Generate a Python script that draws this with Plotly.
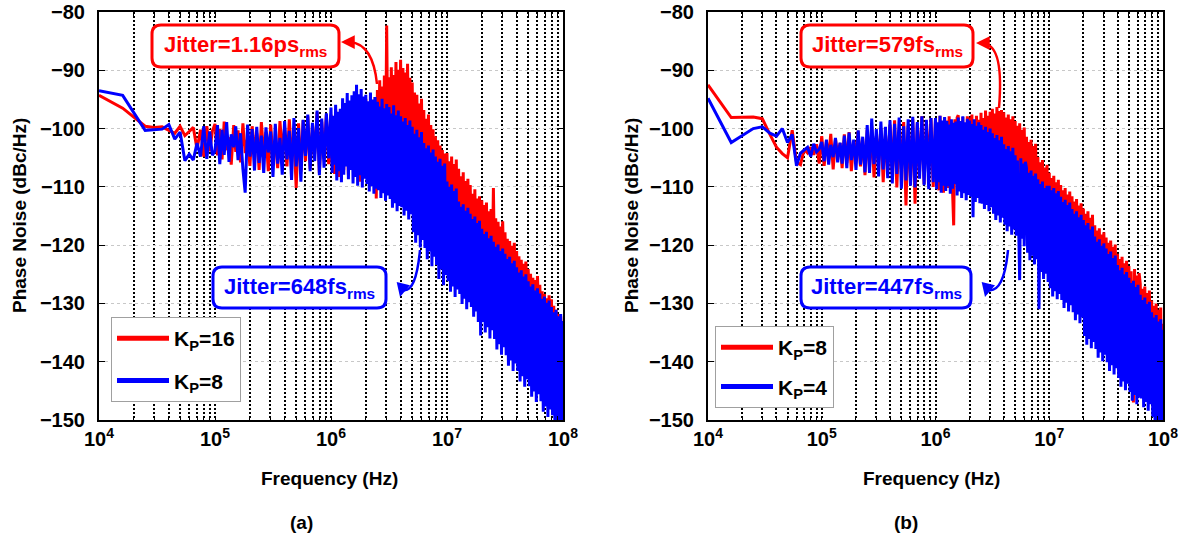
import plotly.graph_objects as go

# ---------------------------------------------------------------------------
# Measured phase-noise spectra (frequency offsets in kHz, noise in dBc/Hz)
# ---------------------------------------------------------------------------
FREQ_KHZ_10K = [10, 16, 25, 30, 35, 40, 45, 50, 55, 60, 65, 70, 75, 80, 85, 90, 95]
FREQ_KHZ_100K = [100, 105, 110, 115, 120, 126, 132, 138, 145, 151,
                 158, 166, 174, 182, 191, 200, 209, 219, 229, 240,
                 251, 263, 275, 288, 302, 316, 331, 347, 363, 380,
                 398, 417, 437, 457, 479, 501, 525, 550, 575, 603,
                 631, 661, 692, 724, 759, 794, 832, 871, 912, 955]
FREQ_KHZ_1M = [1000, 1023, 1047, 1072, 1096, 1122, 1148, 1175, 1202, 1230,
               1259, 1288, 1318, 1349, 1380, 1413, 1445, 1479, 1514, 1549,
               1585, 1622, 1660, 1698, 1738, 1778, 1820, 1862, 1905, 1950,
               1995, 2042, 2089, 2138, 2188, 2239, 2291, 2344, 2399, 2455,
               2512, 2570, 2630, 2692, 2754, 2818, 2884, 2951, 3020, 3090,
               3162, 3236, 3311, 3388, 3467, 3548, 3631, 3715, 3802, 3890,
               3981, 4074, 4169, 4266, 4365, 4467, 4571, 4677, 4786, 4898,
               5012, 5129, 5248, 5370, 5495, 5623, 5754, 5888, 6026, 6166,
               6310, 6457, 6607, 6761, 6918, 7079, 7244, 7413, 7586, 7762,
               7943, 8128, 8318, 8511, 8710, 8913, 9120, 9333, 9550, 9772]
FREQ_KHZ_10M = [10000, 10230, 10470, 10720, 10960, 11220, 11480, 11750, 12020, 12300,
                12590, 12880, 13180, 13490, 13800, 14130, 14450, 14790, 15140, 15490,
                15850, 16220, 16600, 16980, 17380, 17780, 18200, 18620, 19050, 19500,
                19950, 20420, 20890, 21380, 21880, 22390, 22910, 23440, 23990, 24550,
                25120, 25700, 26300, 26920, 27540, 28180, 28840, 29510, 30200, 30900,
                31620, 32360, 33110, 33880, 34670, 35480, 36310, 37150, 38020, 38900,
                39810, 40740, 41690, 42660, 43650, 44670, 45710, 46770, 47860, 48980,
                50120, 51290, 52480, 53700, 54950, 56230, 57540, 58880, 60260, 61660,
                63100, 64570, 66070, 67610, 69180, 70790, 72440, 74130, 75860, 77620,
                79430, 81280, 83180, 85110, 87100, 89130, 91200, 93330, 95500, 97720]
FREQ_KHZ_END = [100000]

# (a) K_P = 16
PN_A_KP16 = [
    -94.3, -96.5, -99.6, -99.8, -99.7, -100.3, -100.8, -99.6, -101.2, -100.5,
    -99.8, -103.5, -100.2, -104.8, -99.6, -103.9, -100.4,
    # 100 kHz decade
    -99.2, -104.6, -100.1, -105.3, -98.8, -103.7, -101.5, -106.2, -99.4, -104.0,
    -100.3, -105.8, -99.1, -104.2, -101.7, -106.4, -99.6, -103.5, -100.8, -107.1,
    -98.9, -104.5, -100.6, -107.3, -99.3, -105.1, -101.9, -106.8, -98.7, -104.0,
    -99.8, -106.5, -98.4, -104.9, -100.7, -110.2, -99.1, -107.4, -98.6, -105.6,
    -97.9, -106.9, -99.5, -104.3, -97.2, -107.6, -98.8, -105.2, -97.6, -106.1,
    # 1 MHz decade
    -97.6, -106.2, -98.9, -107.8, -96.7, -104.9, -99.5, -108.3, -97.2, -105.7,
    -98.4, -107.1, -96.5, -105.3, -99.8, -108.0, -97.0, -106.4, -98.1, -104.6,
    -95.8, -107.4, -97.3, -105.9, -96.2, -109.1, -98.5, -106.7, -95.4, -108.2,
    -94.9, -106.8, -96.6, -108.9, -95.3, -107.2, -97.1, -109.6, -94.6, -112.0,
    -93.4, -104.1, -91.7, -105.6, -92.8, -103.8, -90.9, -106.0, -82.3, -104.5,
    -91.2, -103.6, -89.5, -105.2, -90.8, -104.0, -88.6, -106.1, -89.9, -103.2,
    -88.2, -104.7, -89.6, -106.3, -90.4, -105.0, -88.9, -107.1, -91.3, -105.8,
    -92.1, -107.5, -93.8, -108.6, -94.2, -107.9, -95.7, -110.2, -94.9, -109.4,
    -96.8, -111.2, -98.3, -112.7, -97.6, -111.9, -99.4, -113.8, -100.1, -112.6,
    -101.3, -114.5, -102.0, -116.1, -102.9, -115.4, -103.7, -117.2, -104.3, -118.0,
    # 10 MHz decade
    -104.2, -116.5, -105.6, -117.9, -104.8, -116.9, -106.1, -118.4, -105.3, -117.2,
    -106.9, -118.6, -108.2, -119.7, -107.5, -120.3, -109.0, -118.9, -108.6, -120.8,
    -109.7, -120.6, -111.2, -121.8, -110.4, -122.4, -112.0, -121.3, -111.6, -123.0,
    -112.3, -122.8, -113.1, -123.9, -112.7, -124.5, -114.2, -123.4, -113.8, -125.1,
    -110.2, -124.9, -115.4, -125.8, -116.0, -124.6, -116.8, -126.3, -115.9, -125.5,
    -117.8, -126.7, -118.9, -127.8, -119.3, -126.9, -120.1, -128.2, -119.6, -127.5,
    -121.0, -128.6, -121.9, -129.7, -122.5, -128.9, -123.2, -130.3, -122.8, -129.4,
    -124.1, -130.8, -124.9, -131.9, -125.6, -131.2, -126.0, -132.6, -125.3, -131.7,
    -126.8, -133.4, -127.9, -134.7, -128.4, -133.9, -129.1, -135.2, -128.6, -134.5,
    -129.3, -136.2, -130.4, -137.8, -131.1, -136.9, -131.8, -138.5, -132.2, -137.4,
    -134.0,
]

# (a) K_P = 8
PN_A_KP8 = [
    -93.5, -94.3, -100.3, -100.2, -100.1, -99.3, -101.8, -100.6, -105.5, -104.4,
    -105.4, -102.5, -104.8, -99.6, -105.2, -100.5, -104.6,
    # 100 kHz decade
    -103.8, -99.4, -106.1, -100.2, -104.5, -98.9, -105.7, -101.0, -103.2, -99.6,
    -105.4, -100.8, -106.9, -111.0, -99.3, -104.8, -100.1, -107.2, -99.7, -105.9,
    -101.2, -107.6, -99.8, -104.1, -100.5, -108.3, -99.2, -106.0, -101.6, -107.9,
    -98.7, -105.3, -100.4, -108.8, -98.2, -106.5, -99.9, -109.1, -98.5, -104.7,
    -97.6, -107.3, -99.0, -105.6, -96.9, -108.0, -98.3, -106.7, -97.4, -105.1,
    # 1 MHz decade
    -96.4, -107.6, -97.8, -106.2, -95.9, -108.9, -97.1, -107.3, -96.6, -109.2,
    -94.8, -107.9, -95.6, -106.5, -93.9, -108.7, -95.2, -107.1, -94.3, -109.4,
    -93.6, -108.3, -92.5, -109.8, -94.1, -108.0, -93.2, -110.1, -94.5, -108.6,
    -94.2, -109.5, -95.3, -110.8, -93.8, -109.9, -95.0, -111.2, -94.6, -110.3,
    -95.4, -110.6, -96.2, -111.9, -94.9, -111.1, -96.5, -112.4, -95.8, -111.5,
    -96.3, -112.1, -97.4, -113.6, -96.0, -112.8, -97.7, -114.2, -96.9, -113.3,
    -97.9, -113.5, -98.8, -114.9, -98.2, -114.1, -99.4, -115.6, -98.6, -114.7,
    -99.7, -117.8, -100.9, -119.6, -100.2, -118.3, -101.5, -120.4, -100.6, -119.1,
    -102.5, -120.5, -103.4, -122.4, -102.9, -121.1, -104.1, -123.6, -103.6, -122.0,
    -104.8, -123.4, -105.7, -125.8, -105.2, -124.2, -106.4, -126.9, -106.0, -125.1,
    # 10 MHz decade
    -109.1, -126.2, -110.0, -128.0, -109.6, -127.1, -110.7, -128.9, -110.3, -127.6,
    -112.5, -128.4, -113.4, -130.1, -113.0, -129.2, -114.1, -131.0, -113.6, -129.8,
    -114.6, -130.6, -115.5, -132.3, -115.1, -131.4, -116.2, -133.2, -115.8, -135.5,
    -117.2, -133.2, -118.1, -135.0, -117.7, -134.1, -118.8, -136.0, -118.4, -134.6,
    -119.4, -136.1, -120.3, -137.9, -119.9, -137.0, -121.0, -138.8, -120.6, -137.5,
    -121.5, -138.9, -122.4, -140.7, -122.0, -139.8, -123.1, -141.6, -122.7, -140.3,
    -123.8, -141.6, -124.7, -143.4, -124.3, -142.5, -125.4, -144.3, -125.0, -143.0,
    -126.2, -144.2, -127.1, -146.0, -126.7, -145.1, -127.8, -146.9, -127.4, -145.6,
    -128.3, -146.8, -129.2, -148.6, -128.8, -147.7, -129.9, -149.5, -129.5, -148.2,
    -130.6, -149.2, -131.5, -150.8, -131.1, -151.0, -132.2, -151.0, -131.8, -151.0,
    -133.0,
]

# (b) K_P = 8
PN_B_KP8 = [
    -92.5, -98.1, -98.0, -98.3, -101.0, -103.2, -104.3, -105.0, -100.3, -105.8,
    -106.2, -103.6, -104.2, -103.2, -104.5, -102.7, -106.0,
    # 100 kHz decade
    -101.3, -106.4, -102.2, -105.1, -100.9, -107.0, -101.8, -104.6, -102.5, -106.8,
    -101.0, -105.9, -100.6, -107.3, -102.1, -104.8, -100.4, -106.5, -101.7, -108.0,
    -100.2, -106.7, -99.6, -108.4, -101.3, -105.5, -99.9, -109.2, -100.8, -107.1,
    -99.3, -107.8, -98.6, -110.1, -100.2, -106.9, -98.9, -113.2, -99.5, -108.6,
    -98.4, -112.9, -99.1, -107.4, -97.9, -109.5, -98.7, -106.8, -98.2, -110.0,
    # 1 MHz decade
    -98.3, -109.4, -99.1, -110.6, -97.8, -108.9, -98.9, -111.0, -98.2, -109.7,
    -98.6, -110.2, -97.9, -109.1, -99.0, -110.8, -116.6, -98.4, -109.6, -98.1,
    -97.7, -109.5, -98.8, -110.9, -98.0, -108.8, -99.2, -110.3, -97.9, -109.0,
    -98.1, -108.7, -97.6, -110.0, -98.9, -109.3, -97.8, -108.4, -98.5, -109.9,
    -97.3, -107.9, -98.2, -108.8, -96.9, -107.5, -97.8, -109.1, -97.1, -108.3,
    -96.6, -107.8, -97.4, -108.6, -96.3, -107.2, -97.0, -109.0, -96.8, -108.1,
    -97.2, -108.9, -98.1, -109.7, -97.6, -108.5, -98.4, -110.2, -97.9, -109.3,
    -98.7, -110.6, -99.5, -111.8, -99.1, -110.9, -100.2, -112.3, -99.8, -111.4,
    -101.4, -113.2, -102.3, -114.5, -101.9, -113.7, -103.0, -115.1, -102.6, -114.2,
    -104.9, -116.3, -105.8, -117.6, -105.4, -116.9, -106.7, -118.2, -106.2, -117.5,
    # 10 MHz decade
    -107.6, -118.4, -108.5, -119.7, -108.1, -118.9, -109.2, -120.3, -108.8, -119.2,
    -109.7, -120.4, -110.6, -121.8, -110.2, -120.9, -111.3, -122.3, -110.8, -121.4,
    -111.6, -122.5, -112.5, -123.7, -112.1, -122.9, -113.2, -124.3, -112.8, -123.4,
    -113.7, -124.4, -114.6, -125.8, -114.2, -124.9, -115.3, -126.3, -114.8, -125.4,
    -116.6, -126.5, -117.5, -127.8, -117.1, -126.9, -118.2, -128.4, -117.8, -127.3,
    -118.7, -128.5, -119.6, -129.8, -119.2, -128.9, -120.3, -130.4, -119.9, -129.3,
    -121.5, -131.4, -122.4, -132.8, -122.0, -131.9, -123.1, -133.5, -122.7, -132.3,
    -123.6, -135.2, -124.5, -136.8, -147.0, -124.1, -135.9, -125.2, -137.3, -124.8,
    -126.6, -139.1, -127.5, -140.7, -127.1, -139.8, -128.2, -141.4, -127.8, -140.3,
    -129.5, -144.8, -130.4, -146.3, -130.0, -145.5, -131.1, -148.2, -130.7, -150.5,
    -133.5,
]

# (b) K_P = 4
PN_B_KP4 = [
    -94.8, -102.4, -100.0, -99.7, -100.8, -101.3, -100.0, -102.4, -101.0, -106.4,
    -104.2, -103.6, -103.2, -104.8, -102.6, -104.0, -103.5,
    # 100 kHz decade
    -102.3, -105.6, -101.9, -106.2, -102.8, -104.9, -101.6, -105.8, -102.4, -106.0,
    -101.2, -106.8, -100.7, -105.4, -101.9, -107.1, -100.3, -106.2, -101.4, -107.5,
    -99.4, -107.6, -98.3, -106.1, -100.1, -108.2, -98.8, -107.0, -99.7, -108.5,
    -98.6, -109.4, -99.2, -107.8, -98.1, -110.3, -99.6, -108.9, -98.4, -109.8,
    -98.0, -110.1, -98.9, -108.6, -97.9, -109.7, -98.5, -110.4, -98.2, -109.2,
    # 1 MHz decade
    -98.2, -110.4, -98.9, -109.2, -97.8, -111.0, -98.6, -109.8, -98.0, -110.7,
    -98.7, -109.9, -99.3, -111.2, -98.4, -110.3, -99.0, -109.5, -98.8, -111.5,
    -98.1, -110.8, -98.7, -111.9, -97.9, -111.1, -98.9, -112.3, -98.3, -111.4,
    -98.6, -111.7, -99.2, -115.2, -98.4, -112.6, -99.5, -111.9, -98.9, -112.8,
    -99.4, -112.9, -100.2, -113.8, -99.7, -113.1, -100.6, -114.2, -100.0, -113.5,
    -100.8, -114.6, -101.6, -115.7, -101.1, -114.9, -102.0, -116.1, -101.4, -115.3,
    -102.7, -116.5, -103.5, -117.6, -103.0, -116.8, -103.9, -118.2, -103.3, -117.3,
    -104.6, -118.4, -105.5, -119.6, -126.0, -105.1, -118.9, -106.0, -120.2, -105.7,
    -106.8, -121.3, -107.6, -122.6, -107.2, -121.8, -108.1, -123.3, -107.7, -122.4,
    -108.7, -131.0, -109.5, -124.6, -109.1, -125.8, -110.2, -124.9, -109.8, -126.3,
    # 10 MHz decade
    -109.8, -127.4, -110.6, -128.8, -110.2, -127.9, -111.1, -129.3, -110.7, -128.4,
    -111.7, -129.4, -112.6, -130.8, -112.2, -129.9, -113.1, -131.4, -112.7, -130.3,
    -113.8, -131.5, -114.6, -132.9, -114.2, -131.9, -115.2, -133.4, -114.8, -132.4,
    -115.7, -135.6, -116.6, -137.1, -116.2, -136.1, -117.3, -137.7, -116.8, -136.6,
    -118.5, -137.8, -119.4, -139.3, -119.0, -138.4, -120.1, -139.9, -119.7, -138.8,
    -120.6, -140.1, -121.5, -141.6, -121.1, -140.6, -122.2, -142.2, -121.8, -141.1,
    -123.4, -142.8, -124.3, -144.3, -123.9, -143.4, -125.0, -144.9, -124.6, -143.8,
    -125.6, -145.2, -126.5, -146.7, -126.1, -145.7, -127.2, -147.3, -126.8, -146.2,
    -128.5, -146.3, -129.4, -147.8, -129.0, -146.9, -130.1, -148.4, -129.7, -147.3,
    -131.5, -149.5, -132.4, -151.0, -132.0, -150.2, -133.1, -151.0, -132.7, -151.0,
    -134.5,
]

LEGEND_A = ["K<sub>P</sub>=16", "K<sub>P</sub>=8"]
LEGEND_B = ["K<sub>P</sub>=8", "K<sub>P</sub>=4"]
JITTER_A = ["Jitter=1.16ps<sub>rms</sub>", "Jitter=648fs<sub>rms</sub>"]
JITTER_B = ["Jitter=579fs<sub>rms</sub>", "Jitter=447fs<sub>rms</sub>"]
PANEL_TAGS = ["(a)", "(b)"]
X_TITLE = "Frequency (Hz)"
Y_TITLE = "Phase Noise (dBc/Hz)"
DECADES = [4, 5, 6, 7, 8]

freq_hz = [f * 1e3 for f in FREQ_KHZ_10K + FREQ_KHZ_100K + FREQ_KHZ_1M
           + FREQ_KHZ_10M + FREQ_KHZ_END]
for series in (PN_A_KP16, PN_A_KP8, PN_B_KP8, PN_B_KP4):
    assert len(series) == len(freq_hz), (len(series), len(freq_hz))

# ---------------------------------------------------------------------------
# Figure geometry / styling
# ---------------------------------------------------------------------------
W, H = 1186, 537
FONT = "Liberation Sans"
RED, BLUE = "#ff0000", "#0000ff"


def px(x):
    return x / W


def py(y):
    return 1 - y / H


# log grid: every integer multiple within each decade, labels at decades only
grid_vals, grid_text = [], []
for d in DECADES:
    for m in range(1, 10):
        if d == DECADES[-1] and m > 1:
            break
        grid_vals.append(m * 10 ** d)
        grid_text.append(f"10<sup>{d}</sup>" if m == 1 else "")


def bold(size, color="black"):
    return dict(family=FONT, size=size, color=color, weight="bold")


def x_axis(domain, anchor):
    return dict(
        type="log", domain=domain, anchor=anchor, range=[4, 8],
        tickvals=grid_vals, ticktext=grid_text, tickangle=0,
        ticks="inside", ticklen=4, tickwidth=1.2, tickcolor="black",
        showline=True, linecolor="black", linewidth=2, mirror="ticks",
        showgrid=True, gridcolor="black", gridwidth=1.6, griddash="2px,2px",
        zeroline=False, tickfont=bold(20), ticklabelstandoff=0,
        automargin=False,
    )


def y_axis(domain, anchor):
    return dict(
        domain=domain, anchor=anchor, range=[-150, -80],
        tick0=-150, dtick=10,
        ticks="inside", ticklen=6, tickwidth=1.2, tickcolor="black",
        showline=True, linecolor="black", linewidth=2, mirror="ticks",
        showgrid=True, gridcolor="#c8c8c8", gridwidth=1, griddash="dot",
        zeroline=False, tickfont=bold(20), ticklabelstandoff=8,
        automargin=False,
    )


fig = go.Figure()

panels = [
    ("x", "y", "legend", [PN_A_KP16, PN_A_KP8], LEGEND_A),
    ("x2", "y2", "legend2", [PN_B_KP8, PN_B_KP4], LEGEND_B),
]
for xa, ya, leg, series, names in panels:
    for values, color in zip(series, [RED, BLUE]):
        fig.add_trace(go.Scatter(
            x=freq_hz, y=values, xaxis=xa, yaxis=ya, mode="lines",
            line=dict(color=color, width=3), showlegend=False,
            hoverinfo="skip",
        ))
    for name, color in zip(names, [RED, BLUE]):
        fig.add_trace(go.Scatter(
            x=[None], y=[None], xaxis=xa, yaxis=ya, mode="lines",
            line=dict(color=color, width=5), name=name, legend=leg,
            legendgroup=leg + name,
        ))

x_dom_a = [px(99), px(563)]
x_dom_b = [px(708), px(1163)]
y_dom = [py(420), py(12)]

legend_style = dict(
    xanchor="left", yanchor="top", bgcolor="white",
    bordercolor="#a0a0a0", borderwidth=1, font=bold(21), itemwidth=52,
)

fig.update_layout(
    width=W, height=H, margin=dict(l=0, r=0, t=0, b=0, autoexpand=False),
    paper_bgcolor="white", plot_bgcolor="white",
    xaxis=x_axis(x_dom_a, "y"), yaxis=y_axis(y_dom, "x"),
    xaxis2=x_axis(x_dom_b, "y2"), yaxis2=y_axis(y_dom, "x2"),
    legend=dict(x=px(111), y=py(317), tracegroupgap=12, **legend_style),
    legend2=dict(x=px(715), y=py(326), tracegroupgap=9, **legend_style),
)


def rounded_box(x0, y0, x1, y1, r):
    return (f"M {px(x0 + r)},{py(y0)} L {px(x1 - r)},{py(y0)} "
            f"Q {px(x1)},{py(y0)} {px(x1)},{py(y0 + r)} "
            f"L {px(x1)},{py(y1 - r)} Q {px(x1)},{py(y1)} {px(x1 - r)},{py(y1)} "
            f"L {px(x0 + r)},{py(y1)} Q {px(x0)},{py(y1)} {px(x0)},{py(y1 - r)} "
            f"L {px(x0)},{py(y0 + r)} Q {px(x0)},{py(y0)} {px(x0 + r)},{py(y0)} Z")


# callouts: box (px), label, colour, curved leader (tail, control, end), head, head offset
callouts = [
    ((152, 25, 339, 67), JITTER_A[0], RED,
     [(377, 84), (373, 44), (350, 42)], (341, 42), (10, 0)),
    ((213, 267, 386, 308), JITTER_A[1], BLUE,
     [(420, 250), (416, 293), (403, 290)], (400, 297), (2, -8)),
    ((801, 25, 973, 67), JITTER_B[0], RED,
     [(999, 108), (1004, 47), (985, 44)], (976, 43), (10, 0)),
    ((801, 267, 971, 308), JITTER_B[1], BLUE,
     [(1008, 250), (1004, 293), (988, 290)], (985, 297), (2, -8)),
]
for (x0, y0, x1, y1), label, color, curve, head, tail in callouts:
    fig.add_shape(type="path", xref="paper", yref="paper",
                  path=rounded_box(x0, y0, x1, y1, 9),
                  line=dict(color=color, width=3), fillcolor="white", layer="above")
    fig.add_annotation(xref="paper", yref="paper", x=px((x0 + x1) / 2),
                       y=py((y0 + y1) / 2), text=label, showarrow=False,
                       font=bold(22, color), xanchor="center", yanchor="middle")
    (ax0, ay0), (cx, cy), (ex, ey) = curve
    fig.add_shape(type="path", xref="paper", yref="paper",
                  path=f"M {px(ax0)},{py(ay0)} Q {px(cx)},{py(cy)} {px(ex)},{py(ey)}",
                  line=dict(color=color, width=2.5), layer="above")
    fig.add_annotation(xref="paper", yref="paper", x=px(head[0]), y=py(head[1]),
                       ax=tail[0], ay=tail[1], text="", showarrow=True,
                       arrowhead=2, arrowsize=1.1, arrowwidth=2.5, arrowcolor=color)

# axis titles and panel tags
for x_center, y_left, tag_x, tag in zip([329, 931], [19, 631], [302, 906], PANEL_TAGS):
    fig.add_annotation(xref="paper", yref="paper", x=px(x_center), y=py(478),
                       text=X_TITLE, showarrow=False, font=bold(19),
                       xanchor="center", yanchor="middle")
    fig.add_annotation(xref="paper", yref="paper", x=px(y_left), y=py(216),
                       text=Y_TITLE, textangle=-90, showarrow=False, font=bold(19),
                       xanchor="center", yanchor="middle")
    fig.add_annotation(xref="paper", yref="paper", x=px(tag_x), y=py(522),
                       text=tag, showarrow=False, font=bold(19),
                       xanchor="center", yanchor="middle")

fig.write_html("out.html")
